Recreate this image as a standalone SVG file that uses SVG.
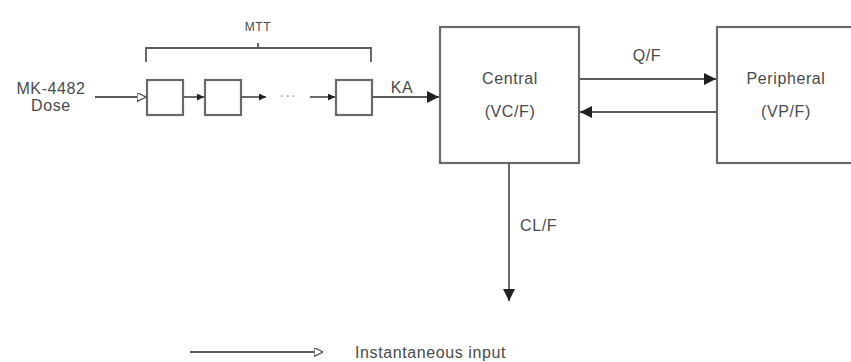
<svg xmlns="http://www.w3.org/2000/svg" width="851" height="362" viewBox="0 0 851 362">
<defs>
<style>
.t{font-family:"Liberation Sans",Arial,sans-serif;fill:#4a4a4a;font-size:16px;letter-spacing:0.6px}
.s{font-size:12px}
.ln{stroke:#5a5a5a;stroke-width:1.8;fill:none}
.bx{stroke:#6a6a6a;stroke-width:2.2;fill:#fff}
</style>
<marker id="fa" viewBox="0 0 10 10" refX="10" refY="5" markerWidth="7" markerHeight="7" orient="auto" markerUnits="userSpaceOnUse"><path d="M0,0 L10,5 L0,10 z" fill="#222"/></marker>
<marker id="fb" viewBox="0 0 10 10" refX="10" refY="5" markerWidth="12" markerHeight="12" orient="auto" markerUnits="userSpaceOnUse"><path d="M0,0 L10,5 L0,10 z" fill="#222"/></marker>
<marker id="oa" viewBox="0 0 10 10" refX="10" refY="5" markerWidth="9" markerHeight="9" orient="auto" markerUnits="userSpaceOnUse"><path d="M0,0 L10,5 L0,10 z" fill="#fff" stroke="#555" stroke-width="1.5"/></marker>
</defs>
<rect width="851" height="362" fill="#fff"/>
<g id="transit">
<text class="t s" x="258" y="31" text-anchor="middle">MTT</text>
<path class="ln" d="M146,62 V48 H258 V43 M258,48 H371 V62"/>
<rect id="c1" class="bx" x="147" y="80" width="36" height="35"/>
<rect id="c2" class="bx" x="205" y="80" width="36" height="35"/>
<rect id="c3" class="bx" x="336" y="80" width="36" height="35"/>
<text class="t" x="288" y="101" text-anchor="middle" style="fill:#aaa">···</text>
</g>
<g id="dose">
<text class="t" x="51" y="94" text-anchor="middle">MK-4482</text>
<text class="t" x="51" y="111" text-anchor="middle">Dose</text>
</g>
<g id="central">
<rect class="bx" x="440" y="27" width="139" height="136"/>
<text class="t" x="510" y="84" text-anchor="middle">Central</text>
<text class="t" x="510" y="117" text-anchor="middle">(VC/F)</text>
</g>
<g id="peripheral">
<rect class="bx" x="717" y="27" width="140" height="136"/>
<text class="t" x="786" y="84" text-anchor="middle">Peripheral</text>
<text class="t" x="786" y="117" text-anchor="middle">(VP/F)</text>
</g>
<g id="connectors">
<line class="ln" x1="95" y1="97" x2="146" y2="97" marker-end="url(#oa)"/>
<line class="ln" x1="183" y1="97" x2="204" y2="97" marker-end="url(#fa)"/>
<line class="ln" x1="241" y1="97" x2="266" y2="97" marker-end="url(#fa)"/>
<line class="ln" x1="310" y1="97" x2="335" y2="97" marker-end="url(#fa)"/>
<line class="ln" x1="372" y1="97" x2="439" y2="97" marker-end="url(#fb)"/>
<text class="t" x="402" y="93" text-anchor="middle">KA</text>
<line class="ln" x1="579" y1="79" x2="716" y2="79" marker-end="url(#fb)"/>
<text class="t" x="647" y="61" text-anchor="middle">Q/F</text>
<line class="ln" x1="717" y1="112" x2="580" y2="112" marker-end="url(#fb)"/>
<line class="ln" x1="509" y1="163" x2="509" y2="301" marker-end="url(#fb)"/>
<text class="t" x="520" y="231">CL/F</text>
</g>
<g id="legend">
<line class="ln" x1="190" y1="352" x2="323" y2="352" marker-end="url(#oa)"/>
<text class="t" x="355" y="358">Instantaneous input</text>
</g>
</svg>
